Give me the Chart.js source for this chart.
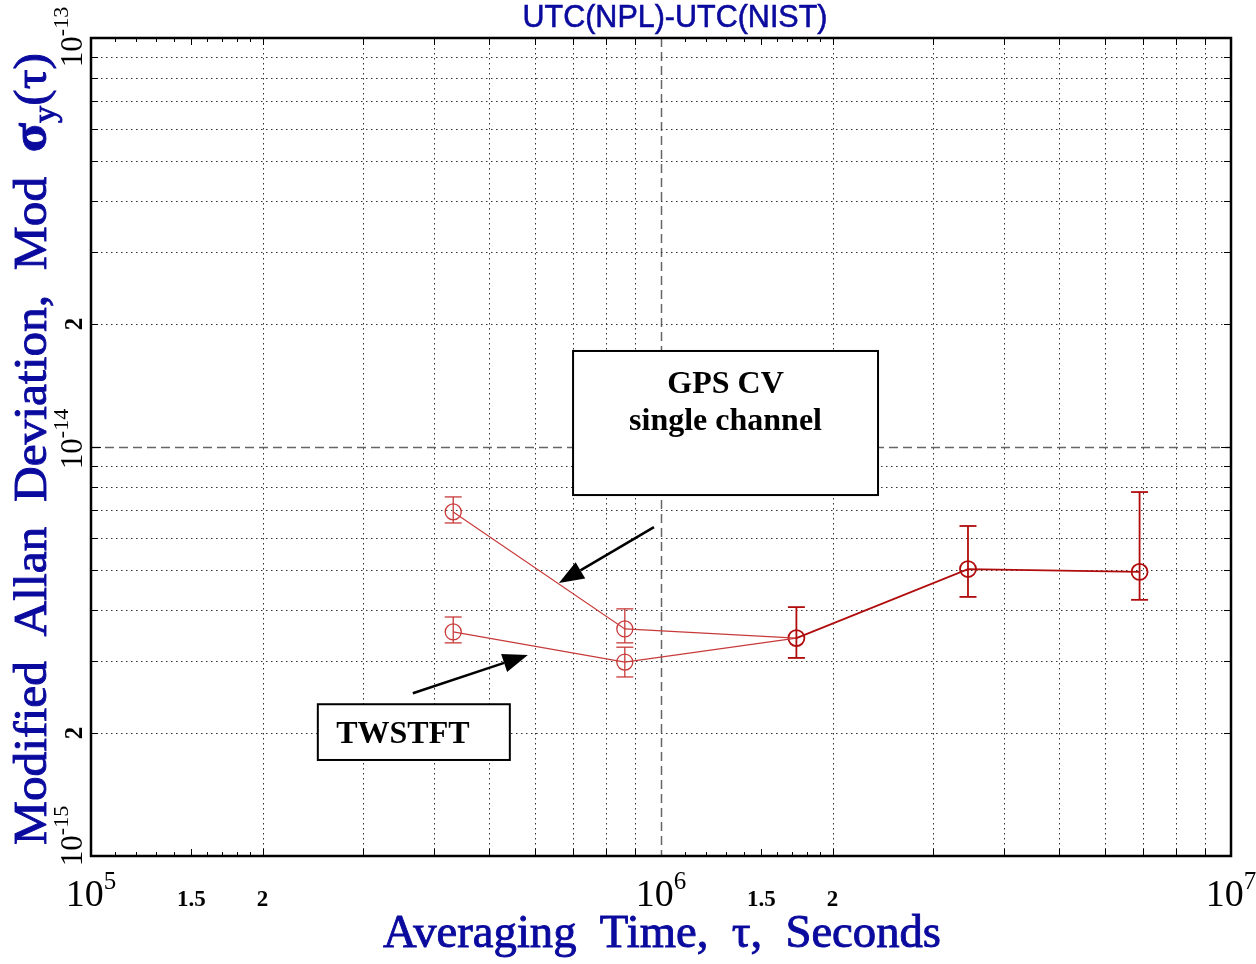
<!DOCTYPE html>
<html lang="en">
<head>
<meta charset="UTF-8">
<title>UTC(NPL)-UTC(NIST)</title>
<script src="https://cdn.jsdelivr.net/npm/chart.js"></script>
<style>
  html, body { margin: 0; padding: 0; background: #fff; }
  canvas { display: block; }
</style>
</head>
<body>
<canvas id="adev" width="1256" height="964" style="width:1256px;height:964px"></canvas>
<script>
// averaging times in seconds (5, 10, 20, 40, 80 days)
const tauShort = [432000, 864000, 1728000];
const tauLong = [1728000, 3456000, 6912000];

// GPS CV single channel
const gpsDev = [6.94e-15, 3.59e-15, 3.41e-15];
const gpsLo  = [6.52e-15, 3.32e-15, null];
const gpsHi  = [7.55e-15, 4.02e-15, null];

// TWSTFT
const twDev = [3.53e-15, 2.98e-15, 3.41e-15];
const twLo  = [3.32e-15, 2.74e-15, null];
const twHi  = [3.84e-15, 3.24e-15, null];

// longer averaging times
const longDev = [3.41e-15, 5.03e-15, 4.95e-15];
const longLo  = [3.05e-15, 4.30e-15, 4.23e-15];
const longHi  = [4.06e-15, 6.41e-15, 7.76e-15];

// tick labels
const xTickVals = [1e5, 1.5e5, 2e5, 1e6, 1.5e6, 2e6, 1e7];
const xTickText = ['10', '1.5', '2', '10', '1.5', '2', '10'];
const xTickExp  = ['5', null, null, '6', null, null, '7'];
const yTickVals = [1e-15, 2e-15, 1e-14, 2e-14, 1e-13];
const yTickText = ['10', '2', '10', '2', '10'];
const yTickExp  = ['-15', null, '-14', null, '-13'];

// annotation boxes / arrows, in data coordinates
const gpsBox = { x1: 7.01e5, x2: 2.403e6, y1: 1.717e-14, y2: 7.63e-15, lines: ['GPS CV', 'single channel'] };
const twBox  = { x1: 2.50e5, x2: 5.43e5, y1: 2.35e-15, y2: 1.717e-15, lines: ['TWSTFT'] };
const gpsArrow = { from: [9.72e5, 6.37e-15], to: [6.62e5, 4.65e-15] };
const twArrow  = { from: [3.67e5, 2.50e-15], to: [5.84e5, 3.10e-15] };

const SERIF = '"Liberation Serif", "Times New Roman", serif';
const SANS = '"Liberation Sans", Arial, sans-serif';
const BLUE = '#0a0a9e';

function pts(xs, ys) {
    return xs.map((x, i) => ({ x: x, y: ys[i] }));
}

function line(ctx, x1, y1, x2, y2) {
    ctx.beginPath();
    ctx.moveTo(x1, y1);
    ctx.lineTo(x2, y2);
    ctx.stroke();
}

// text squeezed/stretched to a given width, optionally thickened
function fitText(ctx, txt, cx, by, w, font, thick) {
    ctx.font = font;
    const m = ctx.measureText(txt).width;
    ctx.save();
    ctx.translate(cx, by);
    ctx.scale(w / m, 1);
    ctx.textAlign = 'center';
    ctx.textBaseline = 'alphabetic';
    ctx.fillText(txt, 0, 0);
    if (thick) {
        ctx.strokeStyle = ctx.fillStyle;
        ctx.lineWidth = thick;
        ctx.strokeText(txt, 0, 0);
    }
    ctx.restore();
}

// "10" with superscript exponent, centred on cx
function powText(ctx, base, exp, cx, by, bSize, eSize) {
    const bf = bSize + 'px ' + SERIF, ef = eSize + 'px ' + SERIF;
    ctx.font = bf;
    const bw = ctx.measureText(base).width;
    ctx.font = ef;
    const ew = ctx.measureText(exp).width;
    const x0 = cx - (bw + ew) / 2;
    ctx.textAlign = 'left';
    ctx.textBaseline = 'alphabetic';
    ctx.font = bf;
    ctx.fillText(base, x0, by);
    ctx.font = ef;
    ctx.fillText(exp, x0 + bw, by - bSize * 0.45);
    return bw + ew;
}

function arrow(ctx, x1, y1, x2, y2) {
    const ang = Math.atan2(y2 - y1, x2 - x1);
    const len = 25, half = 9.5;
    const bx = x2 - len * Math.cos(ang), by = y2 - len * Math.sin(ang);
    ctx.save();
    ctx.strokeStyle = '#000';
    ctx.fillStyle = '#000';
    ctx.lineWidth = 2.5;
    line(ctx, x1, y1, bx, by);
    ctx.beginPath();
    ctx.moveTo(x2, y2);
    ctx.lineTo(bx + half * Math.sin(ang), by - half * Math.cos(ang));
    ctx.lineTo(bx - half * Math.sin(ang), by + half * Math.cos(ang));
    ctx.closePath();
    ctx.fill();
    ctx.restore();
}

const gridPlugin = {
    id: 'logGrid',
    beforeDatasetsDraw(chart) {
        const { ctx, chartArea: a, scales: { x, y } } = chart;
        ctx.save();
        ctx.lineWidth = 1;
        // vertical lines
        for (const d of [5, 6]) {
            for (let m = 1; m <= 9; m++) {
                const v = m * Math.pow(10, d);
                if (v <= 1e5) continue;
                const p = Math.round(x.getPixelForValue(v)) + 0.5;
                if (m === 1) {
                    ctx.strokeStyle = '#666';
                    ctx.lineWidth = 1.5;
                    ctx.setLineDash([9, 5]);
                } else {
                    ctx.strokeStyle = '#333';
                    ctx.lineWidth = 1;
                    ctx.setLineDash([1.5, 3.5]);
                }
                line(ctx, p, a.top, p, a.bottom);
            }
        }
        // horizontal lines
        for (const d of [-15, -14]) {
            for (let m = 1; m <= 9; m++) {
                const v = m * Math.pow(10, d);
                if (v <= 1e-15) continue;
                const p = Math.round(y.getPixelForValue(v)) + 0.5;
                if (m === 1) {
                    ctx.strokeStyle = '#666';
                    ctx.lineWidth = 1.5;
                    ctx.setLineDash([9, 5]);
                } else {
                    ctx.strokeStyle = '#333';
                    ctx.lineWidth = 1;
                    ctx.setLineDash([1.5, 3.5]);
                }
                line(ctx, a.left, p, a.right, p);
            }
        }
        // tick marks on the frame
        ctx.setLineDash([]);
        ctx.strokeStyle = '#000';
        ctx.lineWidth = 1;
        for (const d of [5, 6]) {
            for (let m = 1.1; m < 9.95; m += (m < 1.95 ? 0.1 : 1)) {
                const mm = Math.round(m * 10) / 10;
                const v = mm * Math.pow(10, d);
                const p = Math.round(x.getPixelForValue(v)) + 0.5;
                const len = Number.isInteger(mm) || mm === 1.5 ? 7 : 4;
                line(ctx, p, a.bottom, p, a.bottom - len);
                line(ctx, p, a.top, p, a.top + len);
            }
        }
        for (const d of [-15, -14]) {
            for (let m = 1; m <= 9; m++) {
                const v = m * Math.pow(10, d);
                const p = Math.round(y.getPixelForValue(v)) + 0.5;
                const len = m === 1 ? 10 : 7;
                line(ctx, a.left, p, a.left + len, p);
                line(ctx, a.right, p, a.right - len, p);
            }
        }
        ctx.restore();
    },
    afterDatasetsDraw(chart) {
        const { ctx, scales: { x, y } } = chart;
        ctx.save();
        chart.data.datasets.forEach(ds => {
            if (!ds.errLo) return;
            ctx.strokeStyle = ds.borderColor;
            ctx.lineWidth = ds.errWidth;
            ds.data.forEach((p, i) => {
                if (ds.errLo[i] == null) return;
                const px = x.getPixelForValue(p.x);
                const lo = y.getPixelForValue(ds.errLo[i]);
                const hi = y.getPixelForValue(ds.errHi[i]);
                line(ctx, px, lo, px, hi);
                line(ctx, px - 8.5, lo, px + 8.5, lo);
                line(ctx, px - 8.5, hi, px + 8.5, hi);
            });
        });
        ctx.restore();
    },
    afterDraw(chart) {
        const { ctx, chartArea: a, scales: { x, y } } = chart;
        ctx.save();
        // frame
        ctx.strokeStyle = '#000';
        ctx.lineWidth = 2.5;
        ctx.strokeRect(a.left, a.top, a.right - a.left, a.bottom - a.top);

        // annotation boxes
        [gpsBox, twBox].forEach((b, k) => {
            const l = x.getPixelForValue(b.x1), r = x.getPixelForValue(b.x2);
            const t = y.getPixelForValue(b.y1), btm = y.getPixelForValue(b.y2);
            ctx.fillStyle = '#fff';
            ctx.fillRect(l, t, r - l, btm - t);
            ctx.strokeStyle = '#000';
            ctx.lineWidth = 2;
            ctx.strokeRect(l, t, r - l, btm - t);
            ctx.fillStyle = '#000';
            ctx.font = 'bold 32px ' + SERIF;
            ctx.textAlign = 'center';
            ctx.textBaseline = 'alphabetic';
            const cx = k === 0 ? (l + r) / 2 : (l + r) / 2 - 11;
            b.lines.forEach((s, i) => ctx.fillText(s, cx, t + (k === 0 ? 42 : 39) + i * 37));
        });
        arrow(ctx, x.getPixelForValue(gpsArrow.from[0]), y.getPixelForValue(gpsArrow.from[1]),
            x.getPixelForValue(gpsArrow.to[0]), y.getPixelForValue(gpsArrow.to[1]));
        arrow(ctx, x.getPixelForValue(twArrow.from[0]), y.getPixelForValue(twArrow.from[1]),
            x.getPixelForValue(twArrow.to[0]), y.getPixelForValue(twArrow.to[1]));

        // x tick labels
        ctx.fillStyle = '#000';
        xTickVals.forEach((v, i) => {
            const p = x.getPixelForValue(v);
            if (xTickExp[i]) {
                powText(ctx, xTickText[i], xTickExp[i], Math.min(p, 1231), 906, 38, 25);
            } else {
                ctx.font = 'bold 23px ' + SERIF;
                ctx.textAlign = 'center';
                ctx.fillText(xTickText[i], p, 906);
            }
        });
        // y tick labels (rotated)
        yTickVals.forEach((v, i) => {
            const p = y.getPixelForValue(v);
            ctx.save();
            ctx.translate(82, p);
            ctx.rotate(-Math.PI / 2);
            if (yTickExp[i]) {
                let c = p - 8;
                c = Math.max(c, 37);
                c = Math.min(c, 836);
                powText(ctx, yTickText[i], yTickExp[i], p - c, 0, 31, 22);
            } else {
                ctx.font = 'bold 25px ' + SERIF;
                ctx.textAlign = 'center';
                ctx.fillText(yTickText[i], 0, 0);
            }
            ctx.restore();
        });

        // title
        ctx.fillStyle = BLUE;
        fitText(ctx, 'UTC(NPL)-UTC(NIST)', 675, 27, 305, '32px ' + SANS, 0.6);

        // x axis title
        fitText(ctx, 'Averaging  Time,  \u03c4,  Seconds', 662, 947, 558, '46px ' + SERIF, 0.9);

        // y axis title, rotated, with subscript y
        ctx.save();
        ctx.translate(46, 449);
        ctx.rotate(-Math.PI / 2);
        const mainF = '46px ' + SERIF, subF = '32px ' + SERIF, sigF = 'bold 50px ' + SERIF;
        const p1 = 'Modified  Allan  Deviation,  Mod  ', pS = '\u03c3', p2 = 'y', p3 = '(\u03c4)';
        ctx.font = mainF;
        const w1 = ctx.measureText(p1).width, w3 = ctx.measureText(p3).width;
        ctx.font = sigF;
        const wS = ctx.measureText(pS).width;
        ctx.font = subF;
        const w2 = ctx.measureText(p2).width;
        const tot = w1 + wS + w2 + w3;
        ctx.scale(792 / tot, 1);
        const x0 = -tot / 2;
        ctx.textAlign = 'left';
        ctx.strokeStyle = BLUE;
        ctx.lineWidth = 0.9;
        const put = (s, f, px, py) => { ctx.font = f; ctx.fillText(s, px, py); ctx.strokeText(s, px, py); };
        put(p1, mainF, x0, 0);
        put(pS, sigF, x0 + w1, 0);
        put(p2, subF, x0 + w1 + wS, 9);
        put(p3, mainF, x0 + w1 + wS + w2, 0);
        ctx.restore();

        ctx.restore();
    }
};

const lightRed = '#c83a3a';
const darkRed = '#b00c0c';

new Chart(document.getElementById('adev'), {
    type: 'scatter',
    data: {
        datasets: [
            {
                label: 'GPS CV single channel',
                data: pts(tauShort, gpsDev),
                showLine: true,
                borderColor: lightRed,
                borderWidth: 1.2,
                pointRadius: [8, 8, 0],
                pointBorderWidth: 1.3,
                pointBackgroundColor: 'rgba(0,0,0,0)',
                errLo: gpsLo, errHi: gpsHi, errWidth: 1.3
            },
            {
                label: 'TWSTFT',
                data: pts(tauShort, twDev),
                showLine: true,
                borderColor: lightRed,
                borderWidth: 1.2,
                pointRadius: [8, 8, 0],
                pointBorderWidth: 1.3,
                pointBackgroundColor: 'rgba(0,0,0,0)',
                errLo: twLo, errHi: twHi, errWidth: 1.3
            },
            {
                label: 'long tau',
                data: pts(tauLong, longDev),
                showLine: true,
                borderColor: darkRed,
                borderWidth: 1.8,
                pointRadius: 8,
                pointBorderWidth: 1.8,
                pointBackgroundColor: 'rgba(0,0,0,0)',
                errLo: longLo, errHi: longHi, errWidth: 1.8
            }
        ]
    },
    options: {
        responsive: false,
        animation: false,
        devicePixelRatio: 1,
        layout: { padding: { left: 91, right: 25, top: 38, bottom: 108 } },
        scales: {
            x: { type: 'logarithmic', min: 1e5, max: 1e7, display: false },
            y: { type: 'logarithmic', min: 1e-15, max: 1e-13, display: false }
        },
        plugins: {
            legend: { display: false },
            tooltip: { enabled: false }
        }
    },
    plugins: [gridPlugin]
});
</script>
</body>
</html>
